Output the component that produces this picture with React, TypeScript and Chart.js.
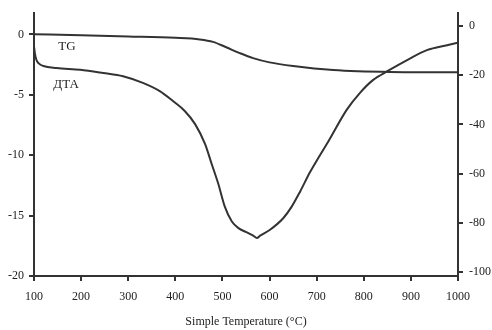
import React, { useEffect, useRef } from "react";
import { Chart, registerables } from "chart.js";

Chart.register(...registerables);

// Temperature (°C) values for each curve
const tgTemps = [100, 200, 300, 400, 452, 480, 508, 537, 565, 600, 650, 735, 856, 1000];
const tgValues = [0, -0.07, -0.17, -0.29, -0.42, -0.62, -1.07, -1.56, -1.97, -2.32, -2.62, -2.95, -3.11, -3.14];

const dtaTemps = [100, 102, 105, 110, 120, 148, 198, 247, 289, 331, 367, 395, 420, 442, 463, 477, 491, 505, 520, 534, 555, 566, 573, 580, 601, 629, 647, 665, 686, 707, 725, 764, 792, 820, 851, 892, 934, 977, 1000];
const dtaValues = [-1.0, -1.6, -2.1, -2.4, -2.62, -2.79, -2.93, -3.2, -3.47, -4.02, -4.7, -5.52, -6.34, -7.43, -9.07, -10.71, -12.35, -14.26, -15.49, -16.04, -16.45, -16.68, -16.86, -16.66, -16.17, -15.22, -14.26, -13.0, -11.4, -10.0, -8.85, -6.23, -4.84, -3.77, -3.03, -2.13, -1.31, -0.9, -0.7];

const xTicks = [100, 200, 300, 400, 500, 600, 700, 800, 900, 1000];
const leftTicks = [0, -5, -10, -15, -20];
const rightTicks = [0, -20, -40, -60, -80, -100];

const curveLabels = [
  { text: "TG", t: 170, v: -1.05 },
  { text: "ДТА", t: 168, v: -4.15 },
];

const FONT = '"Liberation Serif", "Times New Roman", serif';
const INK = "#333333";

export default function App() {
  const ref = useRef<HTMLCanvasElement | null>(null);

  useEffect(() => {
    if (!ref.current) return;
    const labelPlugin = {
      id: "curveLabels",
      afterDraw(chart: any) {
        const ctx = chart.ctx;
        const xs = chart.scales.x;
        const ys = chart.scales.y;
        ctx.save();
        ctx.fillStyle = "#222";
        ctx.font = `13px ${FONT}`;
        ctx.textAlign = "center";
        ctx.textBaseline = "middle";
        curveLabels.forEach((l) => {
          ctx.fillText(l.text, xs.getPixelForValue(l.t), ys.getPixelForValue(l.v));
        });
        ctx.restore();
      },
    };

    const chart = new Chart(ref.current, {
      type: "line",
      data: {
        datasets: [
          {
            label: "TG",
            data: tgTemps.map((t, i) => ({ x: t, y: tgValues[i] })),
            borderColor: INK,
            borderWidth: 2,
            pointRadius: 0,
            cubicInterpolationMode: "monotone",
            yAxisID: "y",
          },
          {
            label: "ДТА",
            data: dtaTemps.map((t, i) => ({ x: t, y: dtaValues[i] })),
            borderColor: INK,
            borderWidth: 2,
            pointRadius: 0,
            cubicInterpolationMode: "monotone",
            yAxisID: "y",
          },
        ],
      },
      options: {
        animation: false,
        responsive: true,
        maintainAspectRatio: false,
        layout: { padding: { top: 8, left: 0, right: 0, bottom: 0 } },
        plugins: { legend: { display: false }, tooltip: { enabled: false } },
        scales: {
          x: {
            type: "linear",
            min: 100,
            max: 1000,
            afterFit: (s: any) => { s.height = 54; },
            afterBuildTicks: (s: any) => { s.ticks = xTicks.map((v) => ({ value: v })); },
            grid: { drawOnChartArea: false, drawTicks: true, tickLength: 5, color: INK, lineWidth: 2 },
            border: { display: true, color: INK, width: 2 },
            ticks: {
              color: "#222",
              font: { family: FONT, size: 12 },
              padding: 9,
              maxRotation: 0,
              autoSkip: false,
              callback: (v: any) => String(v),
            },
            title: {
              display: true,
              text: "Simple Temperature (°C)",
              color: "#222",
              font: { family: FONT, size: 12 },
              padding: { top: 0, bottom: 1 },
            },
          },
          y: {
            position: "left",
            min: -20,
            max: 1.75,
            afterFit: (s: any) => { s.width = 34; },
            afterBuildTicks: (s: any) => { s.ticks = leftTicks.map((v) => ({ value: v })); },
            grid: { drawOnChartArea: false, drawTicks: true, tickLength: 5, color: INK, lineWidth: 2 },
            border: { display: true, color: INK, width: 2 },
            ticks: { color: "#222", font: { family: FONT, size: 12 }, padding: 5, callback: (v: any) => String(v) },
          },
          y1: {
            position: "right",
            min: -101.6,
            max: 5.2,
            afterFit: (s: any) => { s.width = 34; },
            afterBuildTicks: (s: any) => { s.ticks = rightTicks.map((v) => ({ value: v })); },
            grid: { drawOnChartArea: false, drawTicks: true, tickLength: 5, color: INK, lineWidth: 2 },
            border: { display: true, color: INK, width: 2 },
            ticks: { color: "#222", font: { family: FONT, size: 12 }, padding: 6, callback: (v: any) => String(v) },
          },
        },
      },
      plugins: [labelPlugin],
    });
    return () => chart.destroy();
  }, []);

  return (
    <div style={{ position: "absolute", left: 0, top: 0, width: 492, height: 330, background: "#fff" }}>
      <canvas ref={ref} />
    </div>
  );
}
